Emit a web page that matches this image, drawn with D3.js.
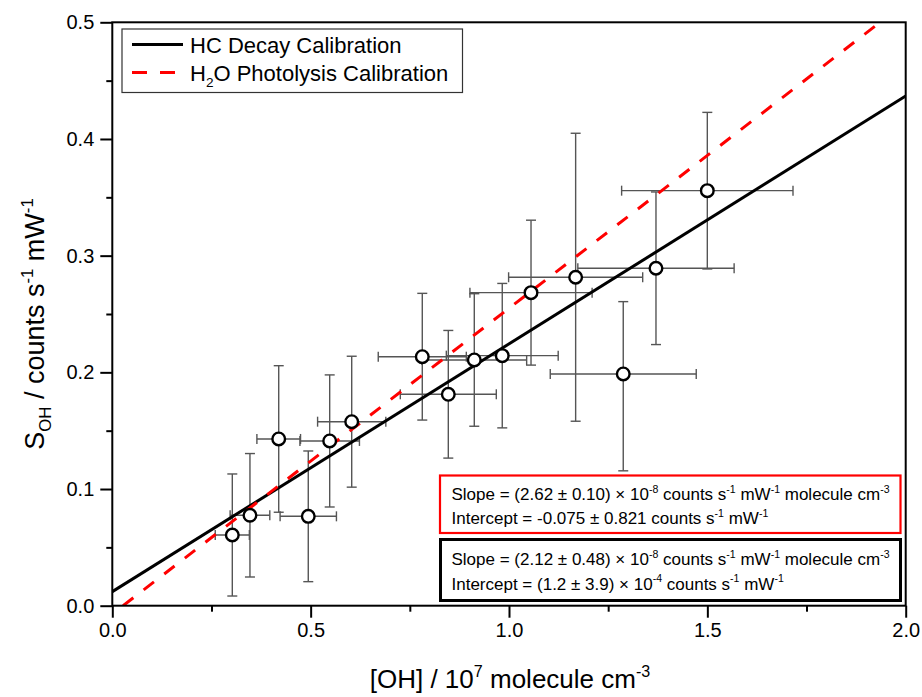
<!DOCTYPE html>
<html><head><meta charset="utf-8">
<script src="https://cdn.jsdelivr.net/npm/d3@7"></script>
<style>
body{margin:0;background:#fff;}
svg{display:block;font-family:"Liberation Sans",Arial,sans-serif;}
</style></head>
<body><svg id="chart" width="922" height="697"></svg>
<script>
// ---- data ----
const ohConc   = [0.3025,0.347,0.4195,0.494,0.548,0.6035,0.7814,0.847,0.9125,0.983,1.0555,1.168,1.288,1.3705,1.4999];
const signal   = [0.0606,0.0775,0.1429,0.0766,0.1412,0.1577,0.2134,0.1812,0.2106,0.2143,0.2683,0.2815,0.1986,0.2892,0.3557];
const xErr     = [0.043,0.050,0.055,0.071,0.075,0.086,0.111,0.121,0.132,0.141,0.154,0.169,0.184,0.197,0.216];
const yErrPlus = [0.0523,0.0529,0.0628,0.056,0.0566,0.0561,0.0543,0.0547,0.0568,0.0619,0.0621,0.1234,0.062,0.0654,0.0671];
const yErrMinus= [0.0523,0.0529,0.0628,0.056,0.0566,0.0561,0.0543,0.0547,0.0568,0.0619,0.0621,0.1234,0.083,0.0654,0.0671];
const hcFit  = {slope:0.2124, intercept:0.012};
const h2oFit = {slope:0.262,  intercept:-0.0071};
const xTicks = [0,0.5,1.0,1.5,2.0];
const yTicks = [0,0.1,0.2,0.3,0.4,0.5];
const xMinor = [0.25,0.75,1.25,1.75];
const yMinor = [0.05,0.15,0.25,0.35,0.45];
const legendLabels = ["HC Decay Calibration","H2O Photolysis Calibration"];

const svg = d3.select("#chart");
const L=112.3, R=905.7, T=22.3, B=605.7;
const x = d3.scaleLinear().domain([0,2]).range([L,R]);
const y = d3.scaleLinear().domain([0,0.5]).range([B,T]);

// rich text helper
function rich(sel, parts, fs){
  let shift=0;
  parts.forEach(p=>{
    const target = p.s==='sup' ? -fs*0.42 : p.s==='sub' ? fs*0.25 : 0;
    const ts = sel.append("tspan").text(p.t).attr("dy", target-shift);
    if(p.s) ts.attr("font-size", fs*0.62);
    shift = target;
  });
}

svg.append("defs").append("clipPath").attr("id","clip")
  .append("rect").attr("x",L).attr("y",T).attr("width",R-L).attr("height",B-T);

// axes
const fsTick=20;
const xAxis = d3.axisBottom(x).tickValues(xTicks).tickFormat(d3.format(".1f")).tickSize(12).tickPadding(5);
const gx = svg.append("g").attr("transform",`translate(0,${B})`).call(xAxis);
const xAxisMinor = d3.axisBottom(x).tickValues(xMinor).tickFormat("").tickSize(6);
const gxm = svg.append("g").attr("transform",`translate(0,${B})`).call(xAxisMinor);
const yAxis = d3.axisLeft(y).tickValues(yTicks).tickFormat(d3.format(".1f")).tickSize(12).tickPadding(6);
const gy = svg.append("g").attr("transform",`translate(${L},0)`).call(yAxis);
const yAxisMinor = d3.axisLeft(y).tickValues(yMinor).tickFormat("").tickSize(6);
const gym = svg.append("g").attr("transform",`translate(${L},0)`).call(yAxisMinor);
[gx,gxm,gy,gym].forEach(g=>{
  g.select(".domain").remove();
  g.selectAll("line").attr("stroke","#000").attr("stroke-width",2);
  g.selectAll("text").attr("font-size",fsTick).attr("fill","#000").attr("font-family","Liberation Sans, Arial, sans-serif");
});

// error bars
const pts = ohConc.map((v,i)=>({x:v,y:signal[i],xe:xErr[i],yp:yErrPlus[i],ym:yErrMinus[i]}));
const eb = svg.append("g").attr("stroke","#555").attr("stroke-width",1.4).attr("fill","none");
const cap=5;
pts.forEach(p=>{
  eb.append("line").attr("x1",x(p.x)).attr("x2",x(p.x)).attr("y1",y(p.y+p.yp)).attr("y2",y(p.y-p.ym));
  eb.append("line").attr("x1",x(p.x)-cap).attr("x2",x(p.x)+cap).attr("y1",y(p.y+p.yp)).attr("y2",y(p.y+p.yp));
  eb.append("line").attr("x1",x(p.x)-cap).attr("x2",x(p.x)+cap).attr("y1",y(p.y-p.ym)).attr("y2",y(p.y-p.ym));
  eb.append("line").attr("x1",x(p.x-p.xe)).attr("x2",x(p.x+p.xe)).attr("y1",y(p.y)).attr("y2",y(p.y));
  eb.append("line").attr("x1",x(p.x-p.xe)).attr("x2",x(p.x-p.xe)).attr("y1",y(p.y)-cap).attr("y2",y(p.y)+cap);
  eb.append("line").attr("x1",x(p.x+p.xe)).attr("x2",x(p.x+p.xe)).attr("y1",y(p.y)-cap).attr("y2",y(p.y)+cap);
});

// fit lines
const lg = svg.append("g").attr("clip-path","url(#clip)");
lg.append("line").attr("x1",x(0)).attr("y1",y(hcFit.intercept)).attr("x2",x(2)).attr("y2",y(hcFit.intercept+2*hcFit.slope))
  .attr("stroke","#000").attr("stroke-width",3);
const x0r = -h2oFit.intercept/h2oFit.slope, x1r=(0.5-h2oFit.intercept)/h2oFit.slope;
lg.append("line").attr("x1",x(x0r)).attr("y1",y(0)).attr("x2",x(x1r)).attr("y2",y(0.5))
  .attr("stroke","#ff0000").attr("stroke-width",3).attr("stroke-dasharray","13,13");

// markers
svg.append("g").selectAll("circle").data(pts).join("circle")
  .attr("cx",d=>x(d.x)).attr("cy",d=>y(d.y)).attr("r",6.3)
  .attr("fill","#fff").attr("stroke","#000").attr("stroke-width",2.4);

// frame
svg.append("rect").attr("x",L).attr("y",T).attr("width",R-L).attr("height",B-T)
  .attr("fill","none").attr("stroke","#000").attr("stroke-width",2);

// legend
const leg = svg.append("g");
leg.append("rect").attr("x",122).attr("y",29).attr("width",340.5).attr("height",63.5)
  .attr("fill","#fff").attr("stroke","#333").attr("stroke-width",1.2);
leg.append("line").attr("x1",132).attr("x2",183).attr("y1",44.5).attr("y2",44.5).attr("stroke","#000").attr("stroke-width",3);
leg.append("line").attr("x1",132).attr("x2",183).attr("y1",72.5).attr("y2",72.5).attr("stroke","#ff0000").attr("stroke-width",3).attr("stroke-dasharray","15,13");
leg.append("text").attr("x",190).attr("y",53).attr("font-size",22).text(legendLabels[0]);
const t2 = leg.append("text").attr("x",190).attr("y",81).attr("font-size",22);
rich(t2,[{t:"H"},{t:"2",s:"sub"},{t:"O Photolysis Calibration"}],22);

// annotation boxes
const fsA=17;
svg.append("rect").attr("x",440).attr("y",475.5).attr("width",460.5).attr("height",57.5)
  .attr("fill","#fff").attr("stroke","#ff0000").attr("stroke-width",2.2);
svg.append("rect").attr("x",440.5).attr("y",539.5).attr("width",460).attr("height",61)
  .attr("fill","#fff").attr("stroke","#000").attr("stroke-width",3);
function slopeLine(yb, val){
  const t = svg.append("text").attr("x",451.5).attr("y",yb).attr("font-size",fsA);
  rich(t,[{t:`Slope = (${val}) \u00d7 10`},{t:"-8",s:"sup"},{t:" counts s"},{t:"-1",s:"sup"},{t:" mW"},{t:"-1",s:"sup"},{t:" molecule cm"},{t:"-3",s:"sup"}],fsA);
}
slopeLine(500,"2.62 \u00b1 0.10");
let t = svg.append("text").attr("x",451.5).attr("y",524).attr("font-size",fsA);
rich(t,[{t:"Intercept = -0.075 \u00b1 0.821 counts s"},{t:"-1",s:"sup"},{t:" mW"},{t:"-1",s:"sup"}],fsA);
slopeLine(565,"2.12 \u00b1 0.48");
t = svg.append("text").attr("x",451.5).attr("y",589.5).attr("font-size",fsA);
rich(t,[{t:"Intercept = (1.2 \u00b1 3.9) \u00d7 10"},{t:"-4",s:"sup"},{t:" counts s"},{t:"-1",s:"sup"},{t:" mW"},{t:"-1",s:"sup"}],fsA);

// axis titles
const fsT=26;
const xt = svg.append("text").attr("x",510).attr("y",688).attr("text-anchor","middle").attr("font-size",fsT);
rich(xt,[{t:"[OH] / 10"},{t:"7",s:"sup"},{t:" molecule cm"},{t:"-3",s:"sup"}],fsT);
const yt = svg.append("text").attr("transform",`translate(44,324) rotate(-90)`).attr("text-anchor","middle").attr("font-size",27);
rich(yt,[{t:"S"},{t:"OH",s:"sub"},{t:" / counts s"},{t:"-1",s:"sup"},{t:" mW"},{t:"-1",s:"sup"}],27);
</script></body></html>
